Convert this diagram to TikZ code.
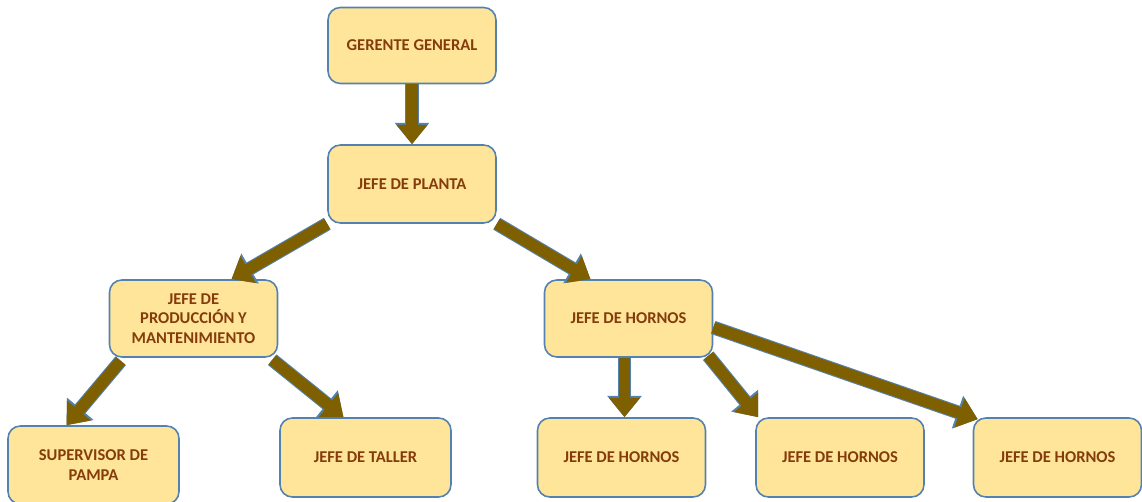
\documentclass[tikz,border=0pt]{standalone}
\usepackage{fontspec}
\setmainfont{Carlito}
\usepackage{tikz}
\usetikzlibrary{arrows.meta, positioning, calc}
\definecolor{boxfill}{RGB}{255,229,153}
\definecolor{boxborder}{RGB}{84,130,176}
\definecolor{boxtext}{RGB}{132,60,12}
\definecolor{arrowbrown}{RGB}{127,96,0}
\tikzset{
    orgbox/.style={rectangle, rounded corners=7pt, minimum width=3.36cm, minimum height=1.52cm, fill=boxfill, draw=boxborder, line width=0.9pt, text=boxtext, font=\fontsize{9.4}{11.2}\selectfont\bfseries, align=center},
    blockarrow/.style={line width=6.6pt, draw=arrowbrown, -{Triangle[width=17pt, length=11pt]},
        preaction={draw=boxborder, line width=7.8pt, -{Triangle[width=19pt, length=12.2pt]}}},
}

\begin{document}
\begin{tikzpicture}[x=0.02cm, y=-0.02cm]
\useasboundingbox (0,0) rectangle (1142,502);

% Top levels
\node[orgbox] (gerente) at (412,45.5) {GERENTE GENERAL};
\node[orgbox, minimum height=1.56cm] (planta) at (412,184) {JEFE DE PLANTA};

% Middle level
\node[orgbox, minimum height=1.54cm] (produccion) at (193.5,318.5) {JEFE DE\\PRODUCCIÓN Y\\MANTENIMIENTO};
\node[orgbox, minimum height=1.54cm] (hornos) at (628.5,318.5) {JEFE DE HORNOS};

% Bottom level
\node[orgbox, minimum width=3.42cm, minimum height=1.56cm] (supervisor) at (93.5,465) {SUPERVISOR DE\\PAMPA};
\node[orgbox, minimum width=3.42cm, minimum height=1.58cm] (taller) at (365.5,457.5) {JEFE DE TALLER};
\node[orgbox, minimum height=1.58cm] (hornos-a) at (621.5,457.5) {JEFE DE HORNOS};
\node[orgbox, minimum height=1.58cm] (hornos-b) at (840,457.5) {JEFE DE HORNOS};
\node[orgbox, minimum height=1.58cm] (hornos-c) at (1057.5,457.5) {JEFE DE HORNOS};

% Arrows
\draw[blockarrow] (gerente.south) -- (planta.north);
\draw[blockarrow] ($(planta.south west)+(0,0)$) -- ($(produccion.north)+(38,0)$);
\draw[blockarrow] ($(planta.south east)+(0,0)$) -- ($(hornos.north)+(-38,0)$);
\draw[blockarrow] ($(produccion.south west)+(12,3)$) -- ($(supervisor.north)+(-27,0)$);
\draw[blockarrow] ($(produccion.south east)+(-6,2)$) -- ($(taller.north)+(-22,0)$);
\draw[blockarrow] ($(hornos-a.north |- hornos.south)+(3,0)$) -- ($(hornos-a.north)+(3,0)$);
\draw[blockarrow] ($(hornos.south east)+(-5,-2)$) -- ($(hornos-b.north west)+(3,0)$);
\draw[blockarrow] ($(hornos.east)+(0,9)$) -- ($(hornos-c.north west)+(5,2)$);

\end{tikzpicture}
\end{document}
